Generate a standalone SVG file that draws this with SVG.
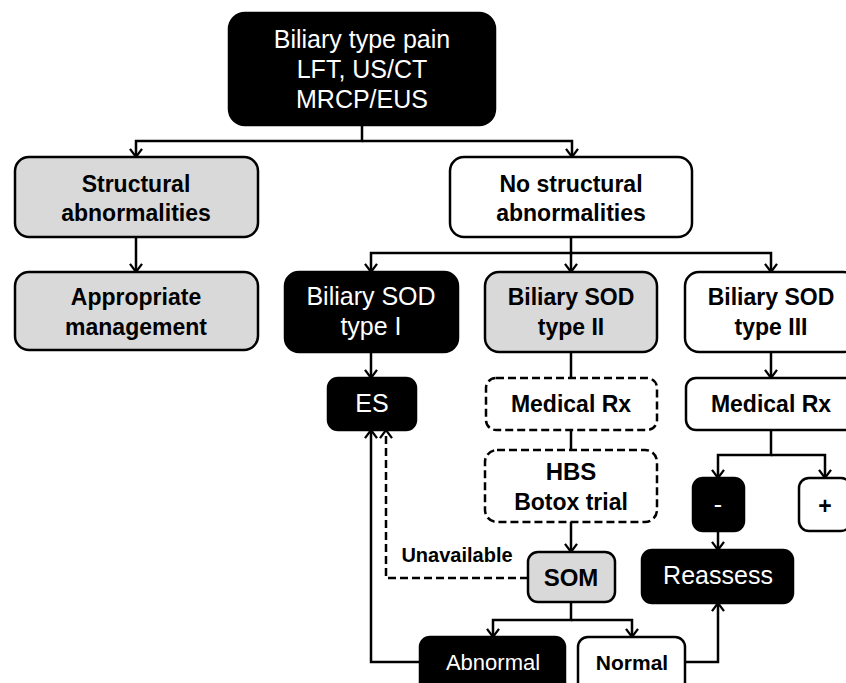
<svg xmlns="http://www.w3.org/2000/svg" width="846" height="683" viewBox="0 0 846 683">
<defs>
<marker id="arr" viewBox="0 0 10 14" markerWidth="10" markerHeight="14" refX="8.6" refY="7" orient="auto" markerUnits="userSpaceOnUse">
<path d="M0.5,1 L8.5,7 L0.5,13" fill="none" stroke="#000" stroke-width="2.3"/>
</marker>
<style>
.box{stroke:#000;stroke-width:2.5}
.blk{fill:#000}
.gry{fill:#d9d9d9}
.wht{fill:#fff}
.dash{fill:#fff;stroke-dasharray:8 4}
.tw{fill:#fff;font-family:"Liberation Sans",Arial,sans-serif;font-size:25px;text-anchor:middle}
.tb{fill:#000;font-family:"Liberation Sans",Arial,sans-serif;font-size:23px;font-weight:bold;text-anchor:middle}
.ln{fill:none;stroke:#000;stroke-width:2.5}
.ar{marker-end:url(#arr)}
.dl{stroke-dasharray:8 4}
</style>
</defs>
<rect width="846" height="683" fill="#fff"/>
<g id="connectors">
<path class="ln ar" d="M362,125 V141 H136 V157"/>
<path class="ln ar" d="M362,141 H572 V157"/>
<path class="ln ar" d="M136,237 V272"/>
<path class="ln ar" d="M571,237 V253 H371 V272"/>
<path class="ln ar" d="M571,253 V272"/>
<path class="ln ar" d="M571,253 H771 V272"/>
<path class="ln ar" d="M371,352 V378"/>
<path class="ln" d="M571,352 V378"/>
<path class="ln ar" d="M771,352 V378"/>
<path class="ln" d="M571,430 V450"/>
<path class="ln ar" d="M571,522 V552"/>
<path class="ln ar" d="M771,430 V455 H718 V478"/>
<path class="ln ar" d="M771,455 H825 V478"/>
<path class="ln ar" d="M718,531 V550"/>
<path class="ln ar" d="M571,602 V620 H493 V637"/>
<path class="ln ar" d="M571,620 H632 V637"/>
<path class="ln ar" d="M420,662 H371 V430"/>
<path class="ln ar dl" d="M528,578 H386 V430"/>
<path class="ln ar" d="M685,662 H718 V603"/>
<text x="457" y="562" class="tb" style="font-size:20px">Unavailable</text>
</g>
<g id="n-top"><rect class="box blk" x="229" y="13" width="266" height="112" rx="16"/>
<text class="tw" x="362" y="48">Biliary type pain</text><text class="tw" x="362" y="78">LFT, US/CT</text><text class="tw" x="362" y="108">MRCP/EUS</text></g>
<g id="n-structural"><rect class="box gry" x="15" y="157" width="243" height="80" rx="14"/>
<text class="tb" x="136" y="192">Structural</text><text class="tb" x="136" y="221">abnormalities</text></g>
<g id="n-appropriate"><rect class="box gry" x="15" y="272" width="243" height="78" rx="14"/>
<text class="tb" x="136" y="305">Appropriate</text><text class="tb" x="136" y="335">management</text></g>
<g id="n-nostructural"><rect class="box wht" x="450" y="157" width="242" height="80" rx="14"/>
<text class="tb" x="571" y="192">No structural</text><text class="tb" x="571" y="221">abnormalities</text></g>
<g id="n-type1"><rect class="box blk" x="285" y="272" width="173" height="80" rx="14"/>
<text class="tw" x="371" y="305">Biliary SOD</text><text class="tw" x="371" y="335">type I</text></g>
<g id="n-type2"><rect class="box gry" x="485" y="272" width="172" height="80" rx="14"/>
<text class="tb" x="571" y="305">Biliary SOD</text><text class="tb" x="571" y="335">type II</text></g>
<g id="n-type3"><rect class="box wht" x="685" y="272" width="172" height="80" rx="14"/>
<text class="tb" x="771" y="305">Biliary SOD</text><text class="tb" x="771" y="335">type III</text></g>
<g id="n-es"><rect class="box blk" x="328" y="378" width="88" height="52" rx="10"/>
<text class="tw" x="372" y="412">ES</text></g>
<g id="n-medrx2"><rect class="box dash" x="486" y="378" width="171" height="52" rx="10"/>
<text class="tb" x="571" y="412">Medical Rx</text></g>
<g id="n-medrx3"><rect class="box wht" x="686" y="378" width="172" height="52" rx="10"/>
<text class="tb" x="771" y="412">Medical Rx</text></g>
<g id="n-hbs"><rect class="box dash" x="485" y="450" width="172" height="72" rx="12"/>
<text class="tb" x="571" y="480" style="font-size:24px">HBS</text><text class="tb" x="571" y="510">Botox trial</text></g>
<g id="n-som"><rect class="box gry" x="528" y="552" width="87" height="50" rx="10"/>
<text class="tb" x="571" y="586" style="font-size:24px">SOM</text></g>
<g id="n-minus"><rect class="box blk" x="693" y="478" width="51" height="53" rx="10"/>
<text class="tw" x="718" y="513">-</text></g>
<g id="n-plus"><rect class="box wht" x="799" y="478" width="52" height="53" rx="10"/>
<text class="tb" x="825" y="514">+</text></g>
<g id="n-reassess"><rect class="box blk" x="642" y="550" width="151" height="53" rx="10"/>
<text class="tw" x="718" y="584">Reassess</text></g>
<g id="n-abnormal"><rect class="box blk" x="420" y="637" width="145" height="62" rx="10"/>
<text class="tw" x="493" y="670" style="font-size:22px">Abnormal</text></g>
<g id="n-normal"><rect class="box wht" x="578" y="637" width="107" height="62" rx="10"/>
<text class="tb" x="632" y="670" style="font-size:21px">Normal</text></g>
</svg>
